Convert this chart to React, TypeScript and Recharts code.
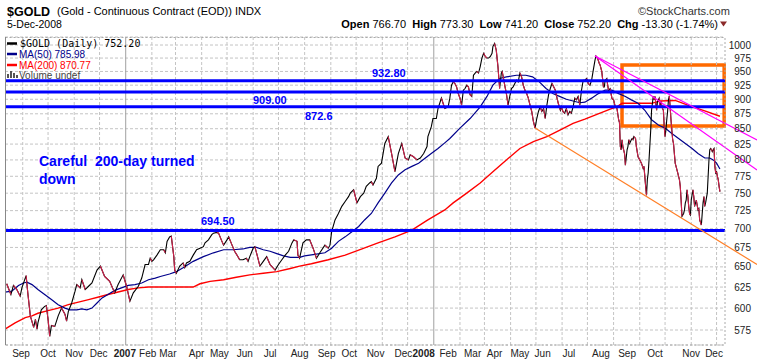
import React from "react";
import {
  LineChart,
  Line,
  XAxis,
  YAxis,
  CartesianGrid,
  ReferenceLine,
  ReferenceArea,
} from "recharts";

const FONT = "'Liberation Sans', Arial, Helvetica, sans-serif";

// x values are calendar days counted from 2006-08-11
const START = "2006-08-11";

const priceDays = [
  2, 7, 10, 14, 18, 20, 25, 27, 30, 34, 36, 38, 39, 43, 47, 49, 51, 53, 55, 59,
  63, 67, 71, 73, 75, 79, 83, 85, 89, 91, 95, 99, 103, 109, 113, 118, 124, 130, 134, 140,
  144, 148, 152, 158, 162, 166, 170, 172, 174, 176, 180, 184, 188, 190, 192, 195, 197, 200, 201, 203,
  207, 211, 213, 215, 219, 223, 227, 231, 235, 237, 241, 245, 247, 251, 253, 257, 259, 263, 265, 269,
  272, 276, 278, 282, 286, 288, 290, 294, 296, 298, 302, 306, 310, 314, 320, 324, 328, 332, 336, 340,
  342, 346, 347, 349, 353, 357, 361, 365, 369, 373, 379, 383, 385, 387, 391, 395, 399, 403, 407, 409,
  413, 417, 421, 425, 428, 432, 434, 436, 440, 442, 446, 450, 454, 458, 462, 466, 470, 474, 478, 480,
  484, 488, 492, 496, 500, 501, 505, 507, 511, 513, 517, 521, 525, 527, 529, 531, 533, 535, 537, 539,
  541, 543, 545, 547, 549, 551, 553, 555, 557, 559, 561, 563, 565, 567, 569, 571, 573, 575, 577, 578,
  580, 582, 584, 586, 588, 589, 591, 592, 594, 596, 598, 600, 602, 604, 606, 608, 610, 612, 614, 616,
  618, 620, 622, 624, 626, 628, 630, 632, 634, 636, 638, 640, 642, 644, 646, 648, 650, 652, 654, 656,
  658, 659, 661, 663, 665, 667, 669, 671, 673, 675, 677, 679, 681, 683, 685, 687, 689, 691, 693, 695,
  697, 699, 700, 702, 704, 705, 707, 709, 710, 711, 713, 714, 715, 717, 718, 719, 721, 722, 723, 725,
  727, 728, 729, 730, 731, 732, 734, 735, 737, 738, 739, 740, 742, 743, 744, 745, 747, 748, 750, 752,
  754, 756, 757, 759, 760, 761, 762, 763, 765, 766, 768, 769, 770, 771, 772, 773, 775, 776, 777, 779,
  780, 781, 782, 783, 784, 785, 786, 787, 788, 789, 790, 791, 792, 793, 794, 795, 796, 797, 798, 799,
  800, 801, 802, 804, 805, 806, 807, 808, 809, 810, 811, 812, 813, 815, 816, 817, 819, 820, 821, 822,
  823, 825, 826, 827, 828, 829, 830, 832, 834, 835, 836, 837, 838, 839, 840, 841, 842, 843, 844, 845,
  846, 847,
];

const priceValues = [
  629, 616, 627, 622, 614, 624, 639, 618, 591, 578, 587, 576, 583, 598, 602, 603, 587, 568, 580, 579,
  591, 600, 593, 585, 596, 606, 620, 628, 624, 634, 622, 626, 630, 646, 651, 638, 632, 618, 628, 640,
  626, 608, 618, 626, 636, 653, 653, 661, 657, 659, 665, 672, 672, 668, 683, 689, 690, 663, 646, 642,
  651, 655, 649, 655, 657, 665, 672, 674, 676, 681, 685, 692, 694, 695, 694, 683, 678, 685, 689, 678,
  670, 663, 659, 659, 661, 657, 663, 674, 676, 668, 651, 657, 663, 653, 646, 653, 659, 665, 670, 681,
  685, 683, 665, 661, 681, 685, 685, 674, 661, 668, 678, 674, 678, 696, 712, 721, 731, 738, 745, 750,
  755, 736, 745, 750, 760, 765, 767, 762, 772, 790, 795, 826, 837, 810, 782, 810, 826, 803, 800, 808,
  805, 800, 803, 810, 821, 837, 853, 867, 867, 884, 902, 884, 887, 902, 925, 931, 928, 922, 910, 902,
  890, 916, 919, 925, 922, 908, 905, 943, 947, 950, 947, 959, 975, 984, 978, 975, 975, 978, 984, 997,
  1003, 990, 959, 919, 947, 950, 934, 925, 910, 890, 905, 919, 922, 928, 934, 931, 947, 940, 925, 916,
  910, 902, 890, 879, 862, 851, 867, 879, 887, 879, 884, 867, 890, 908, 919, 928, 922, 916, 902, 890,
  881, 887, 879, 876, 884, 873, 879, 876, 887, 902, 899, 905, 890, 916, 934, 934, 937, 928, 925, 934,
  953, 971, 979, 975, 965, 962, 950, 922, 922, 934, 937, 925, 916, 919, 910, 902, 899, 893, 887, 884,
  865, 860, 821, 816, 832, 821, 810, 792, 816, 821, 832, 826, 832, 834, 832, 837, 834, 821, 805, 800,
  795, 787, 790, 760, 747, 770, 780, 800, 848, 881, 905, 899, 905, 893, 881, 896, 902, 887, 896, 884,
  881, 853, 837, 848, 865, 879, 899, 906, 887, 865, 848, 832, 826, 810, 795, 790, 785, 780, 775, 770,
  760, 740, 717, 721, 726, 736, 740, 755, 745, 731, 721, 719, 740, 755, 745, 731, 740, 733, 726, 728,
  712, 705, 721, 736, 745, 731, 736, 750, 800, 816, 818, 816, 813, 816, 818, 790, 780, 782, 775, 770,
  760, 752.2,
];

const ma50Days = [
  0, 8, 16, 22, 26, 32, 39, 47, 55, 63, 71, 77, 85, 91, 97, 103, 109, 115, 122, 130,
  138, 146, 154, 162, 170, 178, 184, 195, 203, 211, 223, 235, 247, 259, 270, 282, 290, 298, 306, 314,
  322, 330, 338, 349, 355, 367, 379, 387, 395, 403, 411, 419, 426, 434, 442, 450, 458, 466, 474, 482,
  490, 498, 505, 513, 521, 527, 539, 551, 563, 571, 578, 586, 594, 606, 617, 625, 633, 641, 649, 657,
  665, 673, 681, 687, 695, 703, 711, 719, 727, 735, 742, 750, 758, 766, 774, 782, 790, 798, 806, 814,
  821, 829, 835, 839, 843, 847,
];

const ma50Values = [
  619, 620, 627, 630, 631, 628, 622, 616, 610, 604, 600, 598, 598, 599, 598, 600, 606, 612, 616, 621,
  624, 627, 628, 630, 634, 636, 638, 641, 644, 649, 657, 663, 668, 672, 672, 673, 675, 675, 672, 670,
  667, 664, 662, 662, 664, 666, 668, 674, 683, 689, 696, 703, 712, 721, 736, 750, 765, 777, 785, 790,
  795, 803, 810, 818, 827, 834, 851, 867, 887, 905, 925, 937, 940, 943, 943, 940, 931, 919, 910, 905,
  900, 897, 894, 895, 902, 910, 916, 916, 910, 905, 899, 893, 881, 865, 856, 851, 842, 834, 826, 818,
  810, 803, 803, 800, 795, 785.98,
];

const ma200Days = [
  0, 12, 24, 32, 39, 51, 63, 75, 87, 99, 111, 122, 134, 146, 158, 170, 195, 223, 231, 243,
  259, 274, 290, 306, 322, 338, 349, 363, 383, 403, 423, 442, 462, 482, 501, 521, 531, 547, 563, 578,
  594, 610, 626, 642, 658, 673, 687, 705, 717, 725, 731, 766, 776, 794, 812, 829, 847,
];

const ma200Values = [
  576, 583, 589, 591, 594, 597, 600, 604, 607, 610, 613, 616, 619, 622, 624, 625, 625, 625, 629, 632,
  634, 637, 640, 642, 644, 648, 651, 654, 659, 665, 673, 681, 689, 698, 712, 726, 736, 750, 765, 782,
  800, 818, 829, 837, 848, 859, 866, 876, 883, 887, 893, 893, 897, 898, 888, 880, 870.77,
];

const yTicks = [575, 600, 625, 650, 675, 700, 725, 750, 775, 800, 825, 850, 875, 900, 925, 950, 975, 1000];

const monthStarts = [
  "2006-09-01", "2006-10-01", "2006-11-01", "2006-12-01", "2007-01-01", "2007-02-01", "2007-03-01",
  "2007-04-01", "2007-05-01", "2007-06-01", "2007-07-01", "2007-08-01", "2007-09-01", "2007-10-01",
  "2007-11-01", "2007-12-01", "2008-01-01", "2008-02-01", "2008-03-01", "2008-04-01", "2008-05-01",
  "2008-06-01", "2008-07-01", "2008-08-01", "2008-09-01", "2008-10-01", "2008-11-01", "2008-12-01",
];

const monthLabels = [
  "Sep", "Oct", "Nov", "Dec", "2007", "Feb", "Mar", "Apr", "May", "Jun", "Jul", "Aug", "Sep", "Oct",
  "Nov", "Dec", "2008", "Feb", "Mar", "Apr", "May", "Jun", "Jul", "Aug", "Sep", "Oct", "Nov", "Dec",
];
const monthLabelDays = [
  19, 51, 82, 111, 142, 169, 193, 227, 254, 284, 314, 349, 381, 408,
  439, 472, 496, 525, 554, 580, 610, 637, 668, 706, 737, 770, 813, 840,
];

// horizontal support / resistance levels drawn on the chart
const levels = [932.8, 913, 887, 697.5];
const levelLabels = ["932.80", "909.00", "872.6", "694.50"];

const statNames = ["Open", "High", "Low", "Close", "Chg"];
const statValues = ["766.70", "773.30", "741.20", "752.20", "-13.30 (-1.74%)"];

const dayOf = (s: string) => (Date.parse(s) - Date.parse(START)) / 86400000;

const priceData = priceDays.map((d, i) => ({ day: d, v: priceValues[i] }));
const ma50Data = ma50Days.map((d, i) => ({ day: d, v: ma50Values[i] }));
const ma200Data = ma200Days.map((d, i) => ({ day: d, v: ma200Values[i] }));

// falling stretches of the close, drawn red on top of the black line
const downData: { day: number; v: number | null }[] = [];
for (let i = 1; i < priceValues.length; i++) {
  if (priceValues[i] >= priceValues[i - 1]) continue;
  const prevDown = i > 1 && priceValues[i - 1] < priceValues[i - 2];
  if (!prevDown) {
    if (downData.length) downData.push({ day: priceDays[i - 1], v: null });
    downData.push({ day: priceDays[i - 1], v: priceValues[i - 1] });
  }
  downData.push({ day: priceDays[i], v: priceValues[i] });
}

const XTick = (props: any) => {
  const { x, payload } = props;
  const label = monthLabels[monthLabelDays.indexOf(payload.value)];
  const isYear = /^\d{4}$/.test(label);
  return (
    <text x={x} y={357} textAnchor="middle" fontSize={10} fontFamily={FONT}
      fontWeight={isYear ? 700 : 400} fill="#222">
      {label}
    </text>
  );
};

const YTick = (props: any) => (
  <text x={751} y={props.y + 3.5} textAnchor="end" fontSize={10} fontFamily={FONT} fill="#222">
    {props.payload.value}
  </text>
);

export default function App() {
  return (
    <div style={{ position: "absolute", left: 0, top: 0, width: 757, height: 364, background: "#fff" }}>
      <LineChart width={757} height={364} margin={{ top: 37, right: 0, bottom: 0, left: 5 }}>
        <CartesianGrid vertical={false} stroke="#c4c4c4" strokeDasharray="3 2" />
        {monthStarts.map((m) => (
          <ReferenceLine key={m} x={dayOf(m)}
            stroke={m.endsWith("01-01") ? "#a0a0a0" : "#c4c4c4"}
            strokeDasharray={m.endsWith("01-01") ? undefined : "3 2"} />
        ))}
        <XAxis type="number" dataKey="day" domain={[0, 853]} allowDataOverflow ticks={monthLabelDays}
          interval={0} height={19} tick={<XTick />} tickLine={false} axisLine={false} />
        <YAxis orientation="right" type="number" scale="log" domain={[558.5, 1015.7]} allowDataOverflow
          ticks={yTicks} interval={0} width={32} tick={<YTick />} tickLine={false} axisLine={false} />

        <Line data={ma200Data} dataKey="v" stroke="#ff0000" strokeWidth={1.4} dot={false} isAnimationActive={false} />
        <Line data={ma50Data} dataKey="v" stroke="#00008b" strokeWidth={1.2} dot={false} isAnimationActive={false} />
        <Line data={priceData} dataKey="v" stroke="#000000" strokeWidth={1.1} dot={false} isAnimationActive={false} />
        <Line data={downData} dataKey="v" stroke="#d0204a" strokeWidth={1.1} dot={false} connectNulls={false}
          isAnimationActive={false} />

        {levels.map((v) => (
          <ReferenceLine key={v} y={v} stroke="#0000ff" strokeWidth={3} />
        ))}
        <ReferenceLine segment={[{ x: 628, y: 851 }, { x: 891, y: 653 }]} stroke="#ff7f27" strokeWidth={1.2}
          ifOverflow="visible" />
        <ReferenceLine segment={[{ x: 699, y: 979 }, { x: 891, y: 831.6 }]} stroke="#ff00ff" strokeWidth={1.2}
          ifOverflow="visible" />
        <ReferenceLine segment={[{ x: 699, y: 979 }, { x: 891, y: 784.5 }]} stroke="#ff00ff" strokeWidth={1.2}
          ifOverflow="visible" />
        <ReferenceArea x1={731} x2={852} y1={854.5} y2={961.9} fill="none" fillOpacity={0} stroke="#ff6a00"
          strokeWidth={3.5} ifOverflow="visible" />
      </LineChart>

      <svg width={757} height={364} style={{ position: "absolute", left: 0, top: 0, pointerEvents: "none" }}
        fontFamily={FONT}>
        {/* plot frame */}
        <rect x={5.5} y={37.5} width={719.5} height={307.5} fill="none" stroke="#aaa" strokeDasharray="2 2" />
        <line x1={5.5} x2={5.5} y1={37} y2={345} stroke="#888" />

        {/* header */}
        <text x={7} y={15.5} fontSize={12.5} fontWeight={700} fill="#000">$GOLD</text>
        <text x={57} y={15} fontSize={11} fill="#000">(Gold - Continuous Contract (EOD)) INDX</text>
        <text x={7} y={28} fontSize={10.5} fill="#000">5-Dec-2008</text>
        <text x={638} y={15} fontSize={11} fill="#333">©StockCharts.com</text>
        <text x={718} y={27.5} fontSize={11} fill="#000" textAnchor="end" style={{ whiteSpace: "pre" }}>
          {statNames.map((n, i) => (
            <React.Fragment key={n}>
              <tspan fontWeight={700}>{n}</tspan>
              <tspan>{" " + statValues[i] + (i < statNames.length - 1 ? "  " : "")}</tspan>
            </React.Fragment>
          ))}
        </text>
        <polygon points="720,21.5 727,21.5 723.5,26.5" fill="#8b2a2a" />

        {/* legend */}
        <line x1={7} x2={17} y1={43.5} y2={43.5} stroke="#000" strokeWidth={2.5} />
        <text x={20} y={47} fontSize={10} fontFamily="'DejaVu Sans Mono', monospace" fill="#000">$GOLD (Daily) 752.20</text>
        <line x1={7} x2={17} y1={54} y2={54} stroke="#00008b" strokeWidth={2.5} />
        <text x={19} y={57.5} fontSize={10} fill="#00008b">MA(50) 785.98</text>
        <line x1={7} x2={17} y1={65} y2={65} stroke="#ff0000" strokeWidth={2.5} />
        <text x={19} y={68.5} fontSize={10} fill="#ff0000">MA(200) 870.77</text>
        <rect x={7} y={74} width={2} height={4} fill="#555" />
        <rect x={10} y={71} width={2} height={7} fill="#555" />
        <rect x={13} y={73} width={2} height={5} fill="#555" />
        <rect x={16} y={75} width={2} height={3} fill="#555" />
        <text x={19} y={78.5} fontSize={10} fill="#444">Volume undef</text>

        {/* annotations */}
        <text x={372} y={77} fontSize={11} fontWeight={700} fill="#0000ff">{levelLabels[0]}</text>
        <text x={253} y={104} fontSize={11} fontWeight={700} fill="#0000ff">{levelLabels[1]}</text>
        <text x={305} y={120} fontSize={11} fontWeight={700} fill="#0000ff">{levelLabels[2]}</text>
        <text x={201} y={224.5} fontSize={11} fontWeight={700} fill="#0000ff">{levelLabels[3]}</text>
        <text x={39} y={165.5} fontSize={14} fontWeight={700} fill="#0000ff" style={{ whiteSpace: "pre" }}>
          Careful  200-day turned
        </text>
        <text x={39} y={183.5} fontSize={14} fontWeight={700} fill="#0000ff">down</text>
      </svg>
    </div>
  );
}
